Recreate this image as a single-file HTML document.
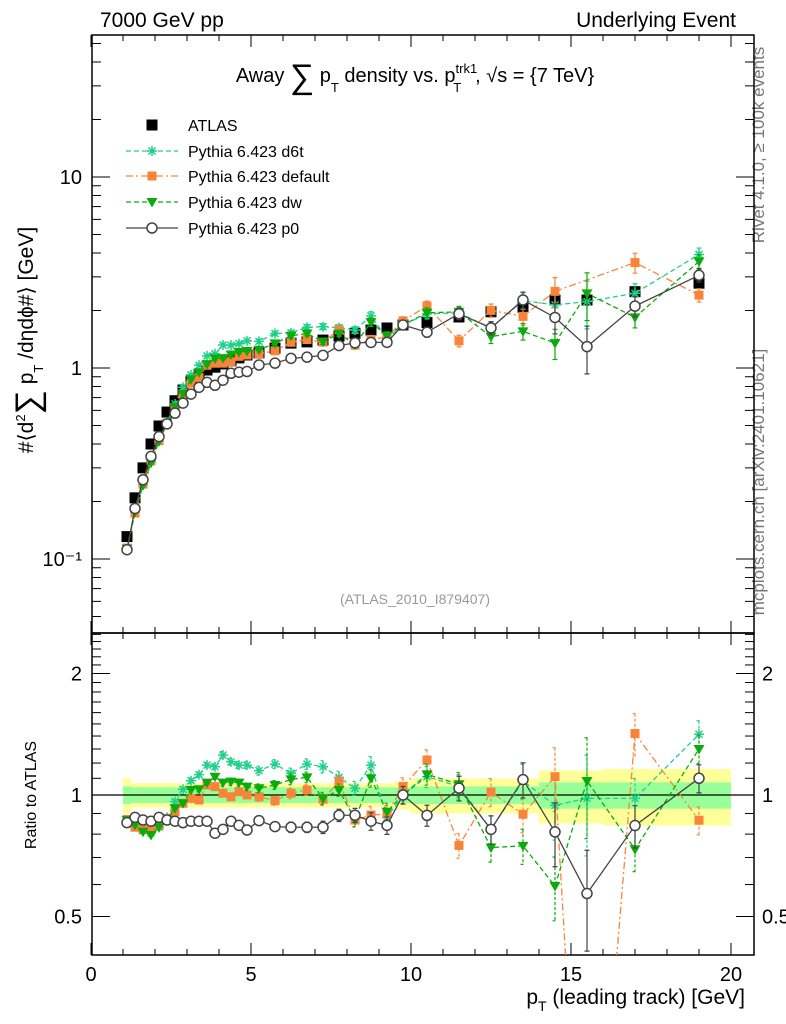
<!DOCTYPE html>
<html><head><meta charset="utf-8">
<style>
html,body{margin:0;padding:0;background:#fff;width:786px;height:1024px;overflow:hidden;}
svg{display:block;font-family:"Liberation Sans",sans-serif;overflow:hidden;}
</style></head>
<body>
<svg id="chart" width="786" height="1024" viewBox="0 0 786 1024">
<defs>
<clipPath id="cm"><rect x="92" y="35" width="662" height="598"/></clipPath>
<clipPath id="cr"><rect x="92" y="633" width="662" height="322"/></clipPath>
</defs>
<text x="100" y="27" font-size="21">7000 GeV pp</text>
<text x="736" y="27" font-size="21" text-anchor="end">Underlying Event</text>
<text x="415" y="82" font-size="20" text-anchor="middle">Away <tspan font-size="34" dy="6">∑</tspan><tspan dy="-6"> p</tspan><tspan font-size="13" dy="10">T</tspan><tspan dy="-10"> density vs. p</tspan><tspan font-size="13" dy="-9">trk1</tspan><tspan font-size="13" dx="-24" dy="19">T</tspan><tspan dx="14" dy="-10">, √s = {7 TeV}</tspan></text>
<text transform="translate(33,340) rotate(-90)" font-size="21" text-anchor="middle">#⟨d<tspan font-size="13" dy="-8">2</tspan><tspan font-size="34" dy="14">∑</tspan><tspan dy="-6"> p</tspan><tspan font-size="13" dy="10">T</tspan><tspan dy="-10"> /dηdϕ#⟩ [GeV]</tspan></text>
<text transform="translate(36,795) rotate(-90)" font-size="16" text-anchor="middle">Ratio to ATLAS</text>
<text x="745" y="1004" font-size="21" text-anchor="end">p<tspan font-size="14" dy="7">T</tspan><tspan dy="-7"> (leading track) [GeV]</tspan></text>
<text x="415" y="604" font-size="14" fill="#999" text-anchor="middle">(ATLAS_2010_I879407)</text>
<text transform="translate(764,145) rotate(-90)" font-size="17" fill="#777" text-anchor="middle">Rivet 4.1.0, ≥ 100k events</text>
<text transform="translate(764,482) rotate(-90)" font-size="17" fill="#777" text-anchor="middle">mcplots.cern.ch [arXiv:2401.10621]</text>
<g id="band" clip-path="url(#cr)"></g>
<g id="axes"></g>
<g id="mainplot" clip-path="url(#cm)"></g>
<g id="ratioplot" clip-path="url(#cr)"></g>
<g id="legend"></g>
</svg>
<script>
const xs=[1.125,1.375,1.625,1.875,2.125,2.375,2.625,2.875,3.125,3.375,3.625,3.875,4.125,4.375,4.625,4.875,5.25,5.75,6.25,6.75,7.25,7.75,8.25,8.75,9.25,9.75,10.5,11.5,12.5,13.5,14.5,15.5,17,19];
const xlo=[1,1.25,1.5,1.75,2,2.25,2.5,2.75,3,3.25,3.5,3.75,4,4.25,4.5,4.75,5,5.5,6,6.5,7,7.5,8,8.5,9,9.5,10,11,12,13,14,15,16,18];
const xhi=[1.25,1.5,1.75,2,2.25,2.5,2.75,3,3.25,3.5,3.75,4,4.25,4.5,4.75,5,5.5,6,6.5,7,7.5,8,8.5,9,9.5,10,11,12,13,14,15,16,18,20];
const atlas=[0.131,0.209,0.30,0.40,0.497,0.588,0.674,0.767,0.848,0.92,0.976,1.01,1.05,1.09,1.13,1.17,1.2,1.27,1.35,1.37,1.4,1.47,1.52,1.58,1.62,1.68,1.73,1.85,1.97,2.08,2.27,2.27,2.51,2.78];
const statBand=[0.05,0.045,0.045,0.045,0.045,0.045,0.045,0.045,0.045,0.045,0.045,0.045,0.045,0.045,0.045,0.045,0.045,0.045,0.045,0.045,0.045,0.045,0.045,0.045,0.045,0.045,0.05,0.05,0.05,0.05,0.075,0.075,0.075,0.075];
const totBand=[0.10,0.07,0.07,0.07,0.07,0.07,0.07,0.07,0.07,0.07,0.07,0.07,0.07,0.07,0.07,0.07,0.07,0.07,0.07,0.07,0.07,0.07,0.07,0.07,0.07,0.08,0.10,0.10,0.10,0.10,0.15,0.15,0.16,0.16];
const ratioD6t=[0.859,0.843,0.816,0.806,0.832,0.88,0.963,1.033,1.085,1.123,1.186,1.175,1.256,1.209,1.186,1.186,1.149,1.193,1.132,1.193,1.175,1.106,1.039,1.186,0.88,1.0,1.11,1.05,0.822,1.083,0.943,0.981,0.981,1.414];
const ratioDefault=[0.87,0.832,0.822,0.819,0.838,0.875,0.909,0.954,0.981,0.972,1.059,1.049,1.01,0.99,1.019,1.0,0.99,0.968,1.01,1.029,0.976,1.079,0.867,0.892,0.897,1.05,1.221,0.75,1.017,0.896,1.11,0,1.42,0.866];
const ratioDw=[0.867,0.843,0.811,0.796,0.832,0.87,0.927,0.954,1.029,1.033,1.073,1.110,1.073,1.079,1.073,1.049,1.039,1.059,1.093,1.106,0.981,1.029,0.87,1.1,0.909,1.0,1.125,1.063,0.741,0.748,0.595,1.083,0.734,1.30];
const ratioP0=[0.854,0.88,0.867,0.861,0.88,0.867,0.861,0.854,0.861,0.861,0.861,0.804,0.822,0.861,0.841,0.819,0.864,0.835,0.832,0.832,0.832,0.891,0.891,0.861,0.841,1.0,0.89,1.04,0.822,1.092,0.81,0.57,0.84,1.10];
const relErr=[0.01,0.01,0.01,0.01,0.01,0.01,0.012,0.012,0.015,0.015,0.015,0.015,0.02,0.02,0.02,0.02,0.025,0.025,0.03,0.03,0.035,0.035,0.04,0.05,0.05,0.05,0.06,0.07,0.08,0.1,0.18,0.28,0.12,0.08];
const xTicks=[0,5,10,15,20];
const yMainTicks=[0.1,1,10];
const yMainLabels=["10\u207B\u00B9","1","10"];
const yRatioTicks=[0.5,1,2];
const yRatioLabels=["0.5","1","2"];

const NS="http://www.w3.org/2000/svg";
const X=v=>91+32*v;
const YM=v=>368-191*Math.log10(v);
const YR=r=>795-121.5*Math.log2(Math.max(r,0.05));
function mk(tag,attrs,parent){const e=document.createElementNS(NS,tag);for(const k in attrs)e.setAttribute(k,attrs[k]);parent.appendChild(e);return e;}
const axes=document.getElementById('axes');
const band=document.getElementById('band');
const mp=document.getElementById('mainplot');
const rp=document.getElementById('ratioplot');
const lg=document.getElementById('legend');

for(let i=0;i<xs.length;i++){
  const y1=mk('rect',{x:X(xlo[i]),width:X(xhi[i])-X(xlo[i]),y:YR(1+totBand[i]),height:YR(1-totBand[i])-YR(1+totBand[i]),fill:'#ffff99'},band);
  
  
  const g=mk('rect',{x:X(xlo[i]),width:X(xhi[i])-X(xlo[i]),y:YR(1+statBand[i]),height:YR(1-statBand[i])-YR(1+statBand[i]),fill:'#99ff99'},band);
  
  
}
const f1=mk('rect',{x:92,y:35,width:662,height:598,fill:'none',stroke:'#000','stroke-width':1.5},axes);


const f2=mk('rect',{x:92,y:633,width:662,height:322,fill:'none',stroke:'#000','stroke-width':1.5},axes);


const one=mk('line',{x1:92,x2:754,y1:YR(1),y2:YR(1),stroke:'#000','stroke-width':1.2},axes);


function tick(x1,y1,x2,y2){const t=mk('line',{x1,y1,x2,y2,stroke:'#000','stroke-width':1},axes);

}
for(let v=0;v<=20;v++){const L=(v%5==0)?12:6;const x=X(v);
  tick(x,633,x,633-L);tick(x,35,x,35+L);tick(x,955,x,955-L);tick(x,633,x,633+L);}
xTicks.forEach(v=>{const t=mk('text',{x:X(v),y:981,'font-size':20,'text-anchor':'middle'},axes);t.textContent=String(v);

});
for(let d=-2;d<=1;d++){for(let m=1;m<10;m++){const v=m*Math.pow(10,d);const y=YM(v);if(y<36||y>632)continue;const L=m==1?18:9;tick(92,y,92+L,y);tick(754,y,754-L,y);}}
yMainTicks.forEach((v,i)=>{const t=mk('text',{x:82,y:YM(v)+7,'font-size':20,'text-anchor':'end'},axes);t.textContent=yMainLabels[i];

});
[0.4,0.5,0.6,0.7,0.8,0.9,1,1.1,1.2,1.3,1.4,1.5,1.6,1.7,1.8,1.9,2,2.1,2.2,2.3,2.4,2.5].forEach(v=>{const y=YR(v);if(y<634||y>954)return;const L=(v==0.5||v==1||v==2)?18:9;tick(92,y,92+L,y);tick(754,y,754-L,y);});
yRatioTicks.forEach((v,i)=>{const t=mk('text',{x:82,y:YR(v)+7,'font-size':20,'text-anchor':'end'},axes);t.textContent=yRatioLabels[i];


const t2=mk('text',{x:762,y:YR(v)+7,'font-size':20},axes);t2.textContent=yRatioLabels[i];

});

function marker(kind,x,y,color,parent,name){
  let e;
  if(kind==='square'){e=mk('rect',{x:x-5.5,y:y-5.5,width:11,height:11,fill:color},parent);}
  else if(kind==='fsquare'){e=mk('rect',{x:x-4.5,y:y-4.5,width:9,height:9,fill:color},parent);}
  else if(kind==='tri'){e=mk('polygon',{points:`${x-5.5},${y-4} ${x+5.5},${y-4} ${x},${y+5.5}`,fill:color},parent);}
  else if(kind==='circle'){e=mk('circle',{cx:x,cy:y,r:5,fill:'#fff',stroke:color,'stroke-width':1.5},parent);}
  else {e=mk('path',{d:`M${x-5},${y}H${x+5}M${x},${y-5}V${y+5}M${x-3.5},${y-3.5}L${x+3.5},${y+3.5}M${x-3.5},${y+3.5}L${x+3.5},${y-3.5}`,stroke:color,'stroke-width':1.5,fill:'none'},parent);}
  
  
}
const series=[
 {name:'d6t',r:ratioD6t,color:'#1fd08a',dash:'5,3',kind:'star',label:'Pythia 6.423 d6t'},
 {name:'default',r:ratioDefault,color:'#f8843a',dash:'7,3,2,3',kind:'fsquare',label:'Pythia 6.423 default'},
 {name:'dw',r:ratioDw,color:'#0aab0a',dash:'5,3',kind:'tri',label:'Pythia 6.423 dw'},
 {name:'p0',r:ratioP0,color:'#444444',dash:'',kind:'circle',label:'Pythia 6.423 p0'}
];
atlas.forEach((v,i)=>marker('square',X(xs[i]),YM(v),'#000',mp,'atlas-point'));
series.forEach(s=>{
  const vals=s.r.map((r,i)=>r*atlas[i]);
  const pm=vals.map((v,i)=>v>0?X(xs[i])+','+YM(v):null).filter(p=>p).join(' ');
  const pr=s.r.map((r,i)=>X(xs[i])+','+YR(r)).join(' ');
  const l1=mk('polyline',{points:pm,fill:'none',stroke:s.color,'stroke-width':1.3,'stroke-dasharray':s.dash},mp);
  
  
  const l2=mk('polyline',{points:pr,fill:'none',stroke:s.color,'stroke-width':1.3,'stroke-dasharray':s.dash},rp);
  
  
  s.r.forEach((r,i)=>{
    if(!(r>0))return;
    const x=X(xs[i]);const e=relErr[i];
    const v=vals[i];
    const eb=mk('path',{d:`M${x},${YM(v*(1+e))}V${YM(v*(1-e))}M${x-2.5},${YM(v*(1+e))}h5M${x-2.5},${YM(v*(1-e))}h5`,stroke:s.color,'stroke-width':1.2,fill:'none'},mp);
    
    
    const lo=Math.max(r*(1-e),0.05);
    const er=mk('path',{d:`M${x},${YR(r*(1+e))}V${YR(lo)}M${x-2.5},${YR(r*(1+e))}h5M${x-2.5},${YR(lo)}h5`,stroke:s.color,'stroke-width':1.2,fill:'none','stroke-dasharray':s.dash?'3,2':''},rp);
    
    
    marker(s.kind,x,YM(v),s.color,mp,s.name+'-point');
    marker(s.kind,x,YR(r),s.color,rp,s.name+'-ratio-point');
  });
});
const ly=[125,151,176,202,228];
marker('square',152,ly[0],'#000',lg,'legend-atlas-marker');
const lt0=mk('text',{x:188,y:ly[0]+6,'font-size':16},lg);lt0.textContent='ATLAS';


series.forEach((s,i)=>{const y=ly[i+1];
  const l=mk('line',{x1:126,x2:178,y1:y,y2:y,stroke:s.color,'stroke-width':1.3,'stroke-dasharray':s.dash},lg);
  
  
  marker(s.kind,152,y,s.color,lg,'legend-marker-'+s.name);
  const t=mk('text',{x:188,y:y+6,'font-size':16},lg);t.textContent=s.label;
  
  
});
</script>
</body></html>
